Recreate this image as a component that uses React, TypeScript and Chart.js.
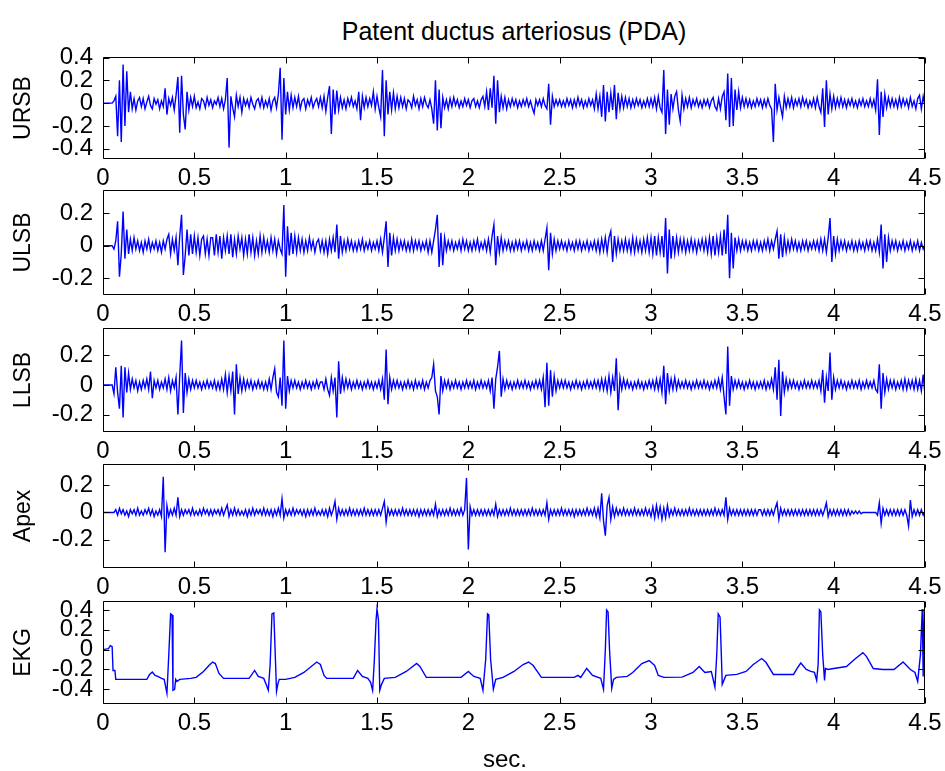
import React, { useEffect, useRef } from "react";
import { Chart, registerables } from "chart.js";

Chart.register(...registerables);

const TITLE = "Patent ductus arteriosus (PDA)";
const X_LABEL = "sec.";
const SAMPLE_STEP = 0.01; // seconds between samples of the heart-sound traces
const X_TICKS = [0, 0.5, 1, 1.5, 2, 2.5, 3, 3.5, 4, 4.5];

// Heart-sound traces, one value every SAMPLE_STEP seconds (0 .. 4.5 s), 0.3 s per row
const URSB = [
  0,0,0,0,0,0,.02,.06,-.29,.2,-.34,.34,-.2,.28,-.08,.1,-.05,.04,-.06,.02,.05,-.03,.04,-.05,.01,.06,-.02,-.05,.04,-.01,
  .03,-.05,.02,-.03,.13,-.1,.04,-.02,.05,-.06,.07,.23,-.26,.24,-.1,-.23,.1,-.06,.05,-.03,.06,-.04,.01,-.05,.04,.02,-.04,.05,-.02,.03,
  -.04,.02,-.01,.05,-.03,.04,-.05,.03,.22,-.39,.06,-.04,-.12,.07,-.03,.05,-.08,.04,-.02,.03,-.04,.05,-.01,-.05,.02,.04,-.03,.05,-.04,.02,
  -.03,.04,-.06,.02,.05,-.04,.08,.31,-.32,.22,-.1,.1,-.06,.07,-.04,.05,-.03,.06,-.05,.02,.04,-.05,.03,-.02,.05,-.04,.01,.04,-.03,.05,
  -.04,.06,-.07,.05,.15,-.27,.12,-.1,.11,-.06,.05,-.04,.03,-.05,.04,-.02,.05,-.03,.02,-.05,.1,-.15,.06,-.04,.05,-.03,.04,-.02,.1,-.05,
  .06,-.04,-.12,.29,-.29,.2,-.1,.1,-.06,.09,-.05,.06,-.04,.05,-.03,.04,-.05,.03,.01,-.04,.06,-.02,.03,-.05,.04,-.03,.05,-.01,-.04,.03,
  -.05,-.18,.2,-.24,.12,-.22,.05,-.04,.03,-.05,.04,-.03,.05,-.02,.03,-.04,.02,-.03,.04,-.02,.03,-.04,.02,.04,-.03,.02,-.04,.03,.06,-.03,
  .1,-.06,.13,-.04,.24,-.18,.2,-.08,.06,-.04,.05,-.05,.03,-.03,.04,-.02,.03,-.04,.02,-.03,.03,-.02,.04,-.03,.02,-.04,-.09,.03,-.02,.03,
  -.03,.04,-.02,-.05,.17,-.19,.06,-.03,.03,-.02,.03,-.03,.02,-.03,.04,-.02,.03,-.04,.03,-.03,.05,-.02,.03,-.04,.02,-.03,.04,-.02,.03,-.05,
  .08,-.05,.06,-.12,.16,-.16,.1,-.08,.09,-.06,.16,-.14,.09,-.05,.06,-.04,.05,-.03,.04,-.04,.03,-.03,.04,-.02,.03,-.04,.02,-.03,.04,-.03,
  .04,-.03,.05,-.05,.06,-.04,-.08,.29,-.27,.12,-.19,.08,-.05,.06,.1,-.06,-.16,.07,-.05,.04,-.03,.05,-.04,.03,-.02,.04,-.03,.02,-.04,.03,
  -.02,.03,-.04,.02,.05,-.03,-.06,.04,-.05,.06,.1,-.15,.26,-.21,.22,-.2,.12,-.06,.1,-.04,.05,-.03,.04,-.03,.03,-.04,.02,-.03,.04,-.02,
  .03,-.04,.03,-.03,.04,-.02,-.05,-.34,.17,-.06,.05,-.04,-.12,.06,-.04,.04,-.03,.05,-.04,.03,-.02,.04,-.03,.05,-.02,.03,-.04,.02,-.03,.04,
  -.04,.05,-.03,-.08,.13,-.21,.2,-.1,.08,-.05,.06,-.04,.04,-.03,.05,-.03,.03,-.04,.03,-.02,.04,-.03,.02,-.04,.03,-.02,.04,-.03,.02,-.03,
  .04,-.03,.03,-.06,.21,-.28,.1,-.12,.08,-.04,.05,-.03,.04,-.03,.03,-.04,.05,-.03,.04,-.02,.03,-.04,.05,-.03,.02,-.05,.04,.07,-.05,.06,
  -.03,
];

const ULSB = [
  0,0,0,0,0,0,-.02,.03,.15,-.19,-.05,.21,-.08,.1,-.05,.04,-.03,.05,-.02,.03,-.03,.02,-.04,.03,-.02,.04,-.03,.02,-.02,.03,
  -.03,.02,-.04,.03,-.02,.04,.07,-.05,.04,-.03,.05,-.12,.06,.19,-.18,-.06,.1,-.06,.07,-.05,.06,-.04,.05,-.06,.04,.06,-.05,.04,-.06,.05,
  .05,-.06,.07,-.04,.06,-.08,.05,-.03,.06,-.05,.07,-.07,.04,-.05,.06,-.02,.05,-.06,.04,-.05,.07,-.04,.05,-.06,.03,-.05,.06,-.04,.05,-.03,
  .03,-.04,.05,-.03,.04,-.05,.03,-.02,-.05,.25,-.19,.12,-.06,.08,-.05,.06,-.04,.05,-.03,.04,-.04,.03,-.03,.05,-.02,.03,-.04,.02,.04,-.03,
  .03,-.04,.03,-.05,.04,-.03,.05,-.04,.13,-.08,.06,-.04,.03,-.03,.04,-.02,.03,-.03,.02,-.03,.03,-.02,.04,-.03,.02,-.02,.03,-.03,.02,-.02,
  .03,-.03,.04,-.04,.05,.15,-.13,.08,-.06,.05,-.03,.04,-.03,.03,-.02,.03,-.03,.02,-.03,.04,-.03,.03,-.02,.03,-.03,.02,-.02,.03,-.04,.03,
  -.04,.03,.1,.19,-.13,.08,-.12,.05,-.03,.03,-.02,.03,-.03,.02,-.02,.03,-.03,.04,-.02,.03,-.03,.02,-.03,.03,-.02,.04,-.03,.02,-.02,.03,
  -.03,.04,-.04,.06,.13,-.12,.06,-.04,.05,-.03,.03,-.02,.03,-.03,.02,-.03,.03,-.02,.03,-.03,.02,-.02,.03,-.03,.02,-.03,.03,-.02,.02,-.03,
  .03,-.03,.04,.11,-.15,.08,-.05,.04,-.03,.03,-.02,.03,-.02,.02,-.03,.03,-.02,.02,-.03,.03,-.02,.03,-.03,.02,-.02,.03,-.03,.02,-.02,.03,
  -.03,.03,-.04,.04,-.03,.05,-.04,.05,.09,-.1,.06,-.05,.04,-.03,.03,-.03,.04,-.03,.03,-.04,.05,-.04,.04,-.03,.03,-.04,.04,-.03,.05,-.04,
  .05,-.05,.06,-.06,.05,-.04,.06,-.07,.17,-.17,.1,-.08,.06,-.05,.05,-.04,.04,-.03,.04,-.04,.03,-.03,.04,-.03,.03,-.04,.03,-.02,.04,-.03,
  .04,-.04,.05,-.05,.06,-.06,.05,-.04,.06,-.06,.1,-.05,.19,-.2,.08,-.14,.05,-.03,.04,-.03,.03,-.02,.03,-.03,.02,-.03,.03,-.02,.03,-.03,
  .02,-.03,.03,-.02,.04,-.03,.03,-.02,.04,.09,-.08,.07,-.07,.05,-.04,.03,-.03,.04,-.02,.03,-.03,.02,-.03,.03,-.02,.03,-.03,.02,-.02,.03,
  -.02,.03,-.03,.04,-.03,.04,-.04,.05,.17,-.1,.06,-.05,.04,-.03,.03,-.02,.03,-.03,.02,-.02,.03,-.03,.02,-.03,.03,-.02,.02,-.03,.03,-.02,
  .03,-.03,.02,-.03,.04,-.04,.13,-.14,.07,-.1,.05,-.03,.03,-.02,.03,-.03,.02,-.02,.03,-.03,.02,-.02,.03,-.03,.02,-.02,.03,-.03,.02,-.02,
  .01,
];

const LLSB = [
  0,0,0,0,0,0,-.06,.12,-.05,-.16,.13,-.22,.12,-.05,.08,-.03,.04,-.02,.03,-.04,.02,-.03,.03,-.02,.04,-.03,.09,-.09,.03,-.02,
  .03,-.03,.02,-.02,.04,-.03,.05,-.04,.03,-.02,.05,-.2,.06,.3,-.19,.08,-.05,.04,-.03,.03,-.02,.03,-.02,.02,-.03,.02,-.02,.03,-.02,.02,
  -.02,.03,-.03,.02,-.03,.04,-.03,.07,-.05,.06,-.04,.09,-.2,.14,-.06,.05,-.04,.04,-.03,.03,-.02,.03,-.03,.02,-.02,.03,-.02,.02,-.03,.02,
  -.03,.04,-.03,.05,.11,-.05,-.08,.05,-.14,.3,-.16,.06,-.04,.03,-.02,.03,-.02,.02,-.03,.02,-.02,.03,-.02,.02,-.03,.02,-.02,.03,-.02,.02,
  .02,-.03,.04,-.03,-.07,.05,-.04,.05,-.22,.16,-.06,.05,-.03,.04,-.02,.03,-.03,.02,-.02,.03,-.02,.02,-.03,.02,-.02,.03,-.02,.02,-.03,.02,
  -.02,.03,-.03,.04,-.1,.24,-.13,.05,-.03,.03,-.02,.03,-.02,.02,-.03,.02,-.02,.03,-.02,.02,-.03,.03,-.02,.02,-.02,.03,-.03,.02,-.02,.03,
  .05,.14,-.04,-.08,-.2,.06,-.04,.03,-.02,.03,-.03,.02,-.02,.03,-.02,.02,-.03,.02,-.02,.03,-.02,.02,-.02,.03,-.03,.02,-.02,.03,-.02,.02,
  -.02,.03,-.04,.05,-.16,.04,.12,.23,-.08,.04,-.03,.03,-.02,.02,-.03,.02,-.02,.03,-.02,.02,-.02,.03,-.02,.02,-.03,.02,-.02,.03,-.02,.03,
  -.03,.05,-.15,.15,-.14,.1,-.08,.06,-.04,.03,-.02,.03,-.02,.03,-.02,.02,-.03,.02,-.02,.03,-.02,.02,-.03,.02,-.02,.03,-.02,.02,-.02,.03,
  -.02,.03,-.03,.04,-.03,.04,-.04,.06,-.05,.05,-.04,.18,-.17,.05,-.03,.04,-.02,.03,-.02,.02,-.03,.02,-.02,.03,-.02,.02,-.03,.02,-.02,.03,
  -.02,.03,-.03,.04,-.03,.04,-.05,.13,-.13,.08,-.04,.04,-.03,.05,-.03,.03,-.02,.02,-.02,.03,-.02,.02,-.03,.02,-.02,.03,-.02,.02,-.02,.03,
  -.02,.02,-.03,.02,-.02,.03,-.02,.04,-.03,.05,-.08,-.2,.26,-.14,.06,-.03,.03,-.02,.03,-.02,.02,-.03,.02,-.02,.03,-.02,.02,-.03,.02,-.02,
  .02,-.02,.03,-.03,.02,-.02,.04,-.03,.12,-.1,.17,-.21,.09,-.05,.04,-.03,.03,-.02,.03,-.02,.02,-.03,.02,-.02,.03,-.02,.02,-.02,.03,-.02,
  .02,-.02,.03,-.04,.1,-.12,.05,-.04,.22,-.1,.05,-.03,.03,-.02,.03,-.02,.02,-.03,.02,-.02,.03,-.02,.02,-.02,.03,-.03,.02,-.02,.03,-.02,
  .02,-.02,.03,-.03,-.05,.14,-.16,.08,-.05,.04,-.03,.03,-.02,.03,-.03,.02,-.02,.03,-.03,.04,-.03,.03,-.02,.03,-.03,.04,-.03,.03,-.04,.07,
  -.07,
];

const APEX = [
  0,0,0,0,0,0,0,.02,-.02,.03,-.01,.02,-.02,.01,-.03,.02,-.01,.02,-.02,.03,-.02,.01,-.02,.02,-.01,.03,-.02,.02,-.03,.01,
  -.02,.02,-.03,.26,-.29,.05,-.03,.02,-.02,.03,-.02,.11,-.03,.02,-.02,.02,-.01,.02,-.02,.03,-.02,.01,-.02,.02,-.02,.03,-.01,.02,-.02,.02,
  -.02,.02,-.01,.02,-.02,.03,-.02,.02,.055,-.03,.02,-.02,.03,-.02,.02,-.02,.01,-.02,.02,-.03,.02,-.02,.03,-.02,.02,-.01,.02,-.02,.03,-.02,
  .02,-.02,.02,-.03,.02,-.02,.03,-.02,.1,-.04,.02,-.02,.02,-.02,.03,-.02,.02,-.01,.02,-.02,.02,-.03,.02,-.02,.02,-.02,.03,-.02,.01,-.02,
  .02,-.02,.02,-.03,.03,-.02,.02,.08,-.05,.03,-.02,.02,-.02,.02,-.02,.03,-.02,.02,-.02,.02,-.02,.02,-.02,.03,-.02,.02,-.02,.02,-.02,.02,
  -.02,.02,-.02,.03,.08,-.07,.03,-.02,.02,-.02,.02,-.02,.02,-.02,.03,-.02,.02,-.02,.02,-.02,.02,-.02,.02,-.03,.02,-.02,.02,-.02,.02,-.02,
  .02,-.02,.06,-.03,.02,-.02,.02,-.02,.02,-.02,.03,-.02,.02,-.02,.02,-.02,.03,-.02,.02,.25,-.27,.04,-.02,.02,-.02,.02,-.02,.02,-.02,.02,
  -.02,.02,-.02,.02,-.02,.06,-.03,.02,-.02,.02,-.02,.02,-.02,.03,-.02,.02,-.02,.02,-.02,.02,-.02,.02,-.02,.02,-.02,.03,-.02,.02,-.02,.02,
  -.02,.02,-.02,.07,-.05,.02,-.02,.02,-.02,.02,-.02,.03,-.02,.02,-.02,.02,-.02,.02,-.03,.02,-.02,.02,-.02,.02,-.02,.03,-.02,.02,-.02,.03,
  -.03,.03,-.04,.14,-.06,-.17,.05,.11,-.05,.04,-.03,.03,-.02,.02,-.02,.03,-.02,.02,-.02,.02,-.02,.03,-.02,.02,-.02,.02,-.02,.03,-.02,.02,
  -.03,.04,-.04,.05,-.03,.04,-.05,.03,-.04,.05,-.03,.02,-.02,.03,-.02,.02,-.02,.02,-.02,.02,-.02,.03,-.02,.02,-.02,.02,-.02,.02,-.02,.02,
  -.02,.02,-.02,.02,-.02,.03,-.02,.02,-.02,.02,-.02,.11,-.05,.03,-.02,.02,-.02,.02,-.02,.02,-.02,.02,-.02,.02,-.02,.02,-.02,.02,-.02,.02,
  .02,-.02,.02,-.02,.02,-.02,.02,-.02,.03,.07,-.05,.03,-.02,.02,-.02,.02,-.02,.02,-.02,.02,-.02,.02,-.02,.02,-.02,.02,-.02,.02,-.02,.02,
  -.02,.02,-.02,.02,-.02,.02,.07,-.03,.02,-.02,.02,-.02,.02,-.02,.02,-.02,.02,-.02,.02,-.02,.01,-.01,.01,-.01,.01,-.01,0,0,0,0,
  0,0,0,0,-.02,.07,-.08,.03,-.02,.02,-.02,.02,-.02,.02,-.02,.02,-.02,.02,-.02,.02,-.02,-.1,.09,-.03,.02,-.02,.02,-.02,.02,-.02,
  .01,
];

// EKG trace: time (s) and value pairs
const EKG_T = [
  0, 0.03, 0.04, 0.05, 0.055, 0.065, 0.07, 0.24, 0.255, 0.27, 0.285, 0.3, 0.32, 0.335,
  0.35, 0.36, 0.37, 0.378, 0.383, 0.392, 0.398, 0.405, 0.42, 0.48, 0.51, 0.55, 0.58, 0.6,
  0.615, 0.635, 0.66, 0.8, 0.83, 0.85, 0.88, 0.895, 0.905, 0.915, 0.925, 0.935, 0.943,
  0.95, 0.958, 0.965, 1.0, 1.05, 1.1, 1.17, 1.19, 1.21, 1.225, 1.37, 1.394, 1.42, 1.45,
  1.465, 1.476, 1.485, 1.495, 1.5, 1.508, 1.515, 1.525, 1.54, 1.6, 1.66, 1.717, 1.735,
  1.77, 1.96, 2.0, 2.03, 2.065, 2.08, 2.095, 2.105, 2.112, 2.122, 2.137, 2.15, 2.19, 2.25,
  2.3, 2.33, 2.355, 2.4, 2.58, 2.6, 2.615, 2.648, 2.68, 2.725, 2.74, 2.75, 2.757, 2.765,
  2.773, 2.785, 2.795, 2.81, 2.87, 2.9, 2.95, 2.99, 3.02, 3.04, 3.07, 3.17, 3.23, 3.264,
  3.295, 3.33, 3.35, 3.36, 3.368, 3.378, 3.385, 3.39, 3.41, 3.47, 3.52, 3.56, 3.606, 3.63,
  3.67, 3.78, 3.8, 3.82, 3.85, 3.875, 3.895, 3.907, 3.915, 3.922, 3.93, 3.94, 3.95, 3.955,
  3.97, 4.0, 4.07, 4.12, 4.16, 4.18, 4.217, 4.27, 4.33, 4.38, 4.42, 4.445, 4.46, 4.475,
  4.485, 4.49, 4.495, 4.5,
];
const EKG_V = [
  0, 0.01, 0.04, 0.03, -0.21, -0.21, -0.3, -0.3, -0.25, -0.225, -0.26, -0.27, -0.29, -0.3,
  -0.44, -0.06, 0.36, 0.35, -0.41, -0.4, -0.3, -0.32, -0.3, -0.29, -0.28, -0.22, -0.16, -0.125,
  -0.14, -0.24, -0.29, -0.29, -0.21, -0.27, -0.29, -0.36, -0.41, -0.15, 0.36, 0.37, -0.05,
  -0.42, -0.34, -0.3, -0.3, -0.28, -0.23, -0.125, -0.15, -0.26, -0.29, -0.29, -0.21, -0.27, -0.29,
  -0.33, -0.41, -0.12, 0.3, 0.41, 0.3, -0.41, -0.35, -0.29, -0.28, -0.22, -0.14, -0.17,
  -0.28, -0.28, -0.22, -0.27, -0.29, -0.41, -0.1, 0.36, 0.35, -0.1, -0.4, -0.3, -0.28, -0.22,
  -0.15, -0.125, -0.16, -0.28, -0.28, -0.26, -0.28, -0.19, -0.26, -0.29, -0.4, 0, 0.4, 0.38,
  0, -0.39, -0.3, -0.28, -0.27, -0.23, -0.14, -0.11, -0.16, -0.26, -0.28, -0.277, -0.23, -0.17,
  -0.23, -0.22, -0.377, -0.05, 0.36, 0.33, -0.05, -0.35, -0.26, -0.25, -0.22, -0.15, -0.09, -0.13,
  -0.25, -0.25, -0.19, -0.135, -0.2, -0.22, -0.23, -0.31, -0.15, 0.4, 0.38, -0.05, -0.31, -0.19,
  -0.2, -0.19, -0.17, -0.09, -0.03, -0.07, -0.19, -0.2, -0.2, -0.125, -0.2, -0.23, -0.32, -0.05,
  0.41, -0.27, 0.41, 0.3,
];

const TICKS_5 = [-0.4, -0.2, 0, 0.2, 0.4];
const TICKS_3 = [-0.2, 0, 0.2];

const FONT_FAMILY = "'Liberation Sans', Arial, Helvetica, sans-serif";
const LINE_COLOR = "#0000ff";

type PanelDef = {
  label: string;
  points: { x: number; y: number }[];
  yMin: number;
  yMax: number;
  yTicks: number[];
  top: number;
  height: number;
};

const sampled = (vals: number[]) =>
  vals.map((v, i) => ({ x: Number((i * SAMPLE_STEP).toFixed(4)), y: v }));

const PANELS: PanelDef[] = [
  { label: "URSB", points: sampled(URSB), yMin: -0.49, yMax: 0.405, yTicks: TICKS_5, top: 57, height: 102 },
  { label: "ULSB", points: sampled(ULSB), yMin: -0.303, yMax: 0.343, yTicks: TICKS_3, top: 190, height: 105 },
  { label: "LLSB", points: sampled(LLSB), yMin: -0.318, yMax: 0.385, yTicks: TICKS_3, top: 328, height: 104 },
  { label: "Apex", points: sampled(APEX), yMin: -0.405, yMax: 0.353, yTicks: TICKS_3, top: 464, height: 104 },
  {
    label: "EKG",
    points: EKG_T.map((t, i) => ({ x: t, y: EKG_V[i] })),
    yMin: -0.548, yMax: 0.49, yTicks: TICKS_5, top: 601, height: 103,
  },
];

const PAD_TOP = 16;
const X_AXIS_H = 34;
const Y_AXIS_W = 103;
const PAD_RIGHT = 20;
const W = 945;

const boxPlugin = {
  id: "matlabBox",
  afterDatasetsDraw(chart: any) {
    const { ctx, chartArea: a, scales } = chart;
    const L = Math.round(a.left) + 0.5;
    const R = Math.round(a.right) - 0.5;
    const T = Math.round(a.top) + 0.5;
    const B = Math.round(a.bottom) - 0.5;
    const len = 6;
    ctx.save();
    ctx.strokeStyle = "#000";
    ctx.lineWidth = 1;
    ctx.beginPath();
    ctx.rect(L, T, R - L, B - T);
    for (const t of scales.x.ticks) {
      const px = Math.round(scales.x.getPixelForValue(t.value)) + 0.5;
      ctx.moveTo(px, B);
      ctx.lineTo(px, B - len);
      ctx.moveTo(px, T);
      ctx.lineTo(px, T + len);
    }
    for (const t of scales.y.ticks) {
      const py = Math.round(scales.y.getPixelForValue(t.value)) + 0.5;
      ctx.moveTo(L, py);
      ctx.lineTo(L + len, py);
      ctx.moveTo(R, py);
      ctx.lineTo(R - len, py);
    }
    ctx.stroke();
    ctx.restore();
  },
};

const fmt = (v: number) => String(Number(v.toFixed(2)));

function Panel({ p }: { p: PanelDef }) {
  const ref = useRef<HTMLCanvasElement>(null);
  const h = PAD_TOP + p.height + X_AXIS_H;
  useEffect(() => {
    const chart = new Chart(ref.current as HTMLCanvasElement, {
      type: "line",
      data: {
        datasets: [
          {
            data: p.points,
            borderColor: LINE_COLOR,
            borderWidth: 1.4,
            pointRadius: 0,
            tension: 0,
            fill: false,
          },
        ],
      },
      options: {
        responsive: false,
        animation: false,
        devicePixelRatio: 1,
        layout: { padding: { left: 0, right: PAD_RIGHT, top: PAD_TOP, bottom: 0 } },
        plugins: { legend: { display: false }, tooltip: { enabled: false } },
        scales: {
          x: {
            type: "linear",
            min: 0,
            max: 4.5,
            afterBuildTicks: (axis: any) => {
              axis.ticks = X_TICKS.map((value) => ({ value }));
            },
            afterFit: (axis: any) => {
              axis.height = X_AXIS_H;
            },
            grid: { display: false, drawTicks: true, tickLength: 5 },
            border: { display: false },
            ticks: {
              autoSkip: false,
              maxRotation: 0,
              padding: 0,
              color: "#000",
              font: { family: FONT_FAMILY, size: 24 },
              callback: (v: any) => fmt(Number(v)),
            },
          },
          y: {
            type: "linear",
            min: p.yMin,
            max: p.yMax,
            afterBuildTicks: (axis: any) => {
              axis.ticks = p.yTicks.map((value) => ({ value }));
            },
            afterFit: (axis: any) => {
              axis.width = Y_AXIS_W;
            },
            grid: { display: false, drawTicks: true, tickLength: 10 },
            border: { display: false },
            ticks: {
              autoSkip: false,
              padding: 0,
              color: "#000",
              font: { family: FONT_FAMILY, size: 24 },
              callback: (v: any) => fmt(Number(v)),
            },
            title: {
              display: true,
              text: p.label,
              color: "#000",
              font: { family: FONT_FAMILY, size: 23 },
              padding: { top: 10, bottom: 0 },
            },
          },
        },
      },
      plugins: [boxPlugin],
    } as any);
    return () => chart.destroy();
  }, []);
  return (
    <canvas
      ref={ref}
      width={W}
      height={h}
      style={{ position: "absolute", left: 0, top: p.top - PAD_TOP, width: W, height: h }}
    />
  );
}

export default function App() {
  return (
    <div
      style={{
        position: "absolute",
        left: 0,
        top: 0,
        width: W,
        height: 771,
        background: "#fff",
        fontFamily: FONT_FAMILY,
        color: "#000",
        overflow: "hidden",
      }}
    >
      <div
        style={{
          position: "absolute",
          left: Y_AXIS_W,
          width: W - Y_AXIS_W - PAD_RIGHT,
          top: 17,
          textAlign: "center",
          fontSize: 25,
          lineHeight: "28px",
          whiteSpace: "nowrap",
        }}
      >
        {TITLE}
      </div>
      {PANELS.map((p) => (
        <Panel key={p.label} p={p} />
      ))}
      <div
        style={{
          position: "absolute",
          left: Y_AXIS_W - 9,
          width: W - Y_AXIS_W - PAD_RIGHT,
          top: 745,
          textAlign: "center",
          fontSize: 24,
          lineHeight: "28px",
          whiteSpace: "nowrap",
        }}
      >
        {X_LABEL}
      </div>
    </div>
  );
}
